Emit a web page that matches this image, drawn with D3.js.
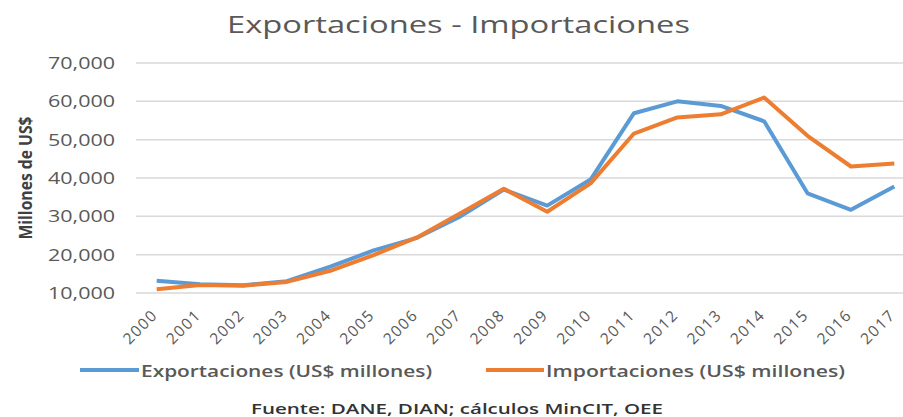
<!DOCTYPE html>
<html><head><meta charset="utf-8">
<script src="https://cdn.jsdelivr.net/npm/d3@7"></script>
<style>body{margin:0;background:#fff}svg{display:block}text{font-family:"Open Sans",sans-serif}</style>
</head><body><svg id="c" width="903" height="417"></svg>
<script>
const years = ["2000","2001","2002","2003","2004","2005","2006","2007","2008","2009","2010","2011","2012","2013","2014","2015","2016","2017"];
const exportaciones = [13200,12300,12000,13100,16900,21100,24400,30000,37000,32800,39600,56900,60000,58800,54800,36000,31700,37800];
const importaciones = [11000,12100,11900,12900,15800,19900,24500,30800,37200,31200,38600,51600,55800,56600,61000,51000,43000,43800];
const yTicks = [10000,20000,30000,40000,50000,60000,70000];
const seriesNames = ["Exportaciones (US$ millones)","Importaciones (US$ millones)"];
const colors = ["#5B9BD5","#ED7D31"];

const svg = d3.select("#c");
const x = d3.scaleBand().domain(years).range([135, 916]);
const cx = d => x(d) + x.bandwidth()/2;
const y = d3.scaleLinear().domain([10000,70000]).range([293,63]);

// title
svg.append("text").attr("x",227).attr("y",33)
  .attr("font-size",23).attr("textLength",463).attr("lengthAdjust","spacingAndGlyphs")
  .attr("fill","#595959").text("Exportaciones - Importaciones");

// gridlines
svg.append("g").selectAll("line").data(yTicks).join("line")
  .attr("x1",136).attr("x2",916).attr("y1",d=>y(d)).attr("y2",d=>y(d))
  .attr("stroke","#d9d9d9").attr("stroke-width",1.5);

// y axis labels
const fmt = d3.format(",");
svg.append("g").selectAll("text").data(yTicks).join("text")
  .attr("x",48).attr("y",d=>y(d)+6)
  .attr("font-size",15.5).attr("textLength",67).attr("lengthAdjust","spacingAndGlyphs")
  .attr("fill","#595959").text(d=>fmt(d));

// y title
svg.append("text").attr("transform","translate(32,178) rotate(-90)").attr("text-anchor","middle")
  .attr("font-family","'Liberation Sans Narrow','Open Sans',sans-serif")
  .attr("font-size",18).attr("font-weight","bold").attr("textLength",123).attr("lengthAdjust","spacingAndGlyphs")
  .attr("fill","#404040").text("Millones de US$");

// x labels
svg.append("g").selectAll("text").data(years).join("text")
  .attr("transform",d=>`translate(${cx(d)+2},${316}) rotate(-45)`).attr("text-anchor","end")
  .attr("font-size",15.5).attr("letter-spacing",1.5).attr("fill","#595959").text(d=>d);

// lines
const line = d3.line().x((d,i)=>cx(years[i])).y(d=>y(d));
[exportaciones, importaciones].forEach((s,i)=>{
  svg.append("path").datum(s).attr("d",line).attr("fill","none")
    .attr("stroke",colors[i]).attr("stroke-width",4).attr("stroke-linejoin","round");
});

// legend
const leg = [{x:80,tx:141,w:291},{x:486,tx:546,w:299}];
seriesNames.forEach((n,i)=>{
  svg.append("line").attr("x1",leg[i].x).attr("x2",leg[i].tx-2).attr("y1",370).attr("y2",370)
    .attr("stroke",colors[i]).attr("stroke-width",4);
  svg.append("text").attr("x",leg[i].tx).attr("y",376.5).attr("font-size",16).attr("font-weight",600)
    .attr("textLength",leg[i].w).attr("lengthAdjust","spacingAndGlyphs")
    .attr("fill","#595959").text(n);
});

// footer
svg.append("text").attr("x",251).attr("y",414)
  .attr("font-size",15).attr("font-weight",600).attr("textLength",412).attr("lengthAdjust","spacingAndGlyphs")
  .attr("fill","#333").text("Fuente: DANE, DIAN; cálculos MinCIT, OEE");
</script></body></html>
